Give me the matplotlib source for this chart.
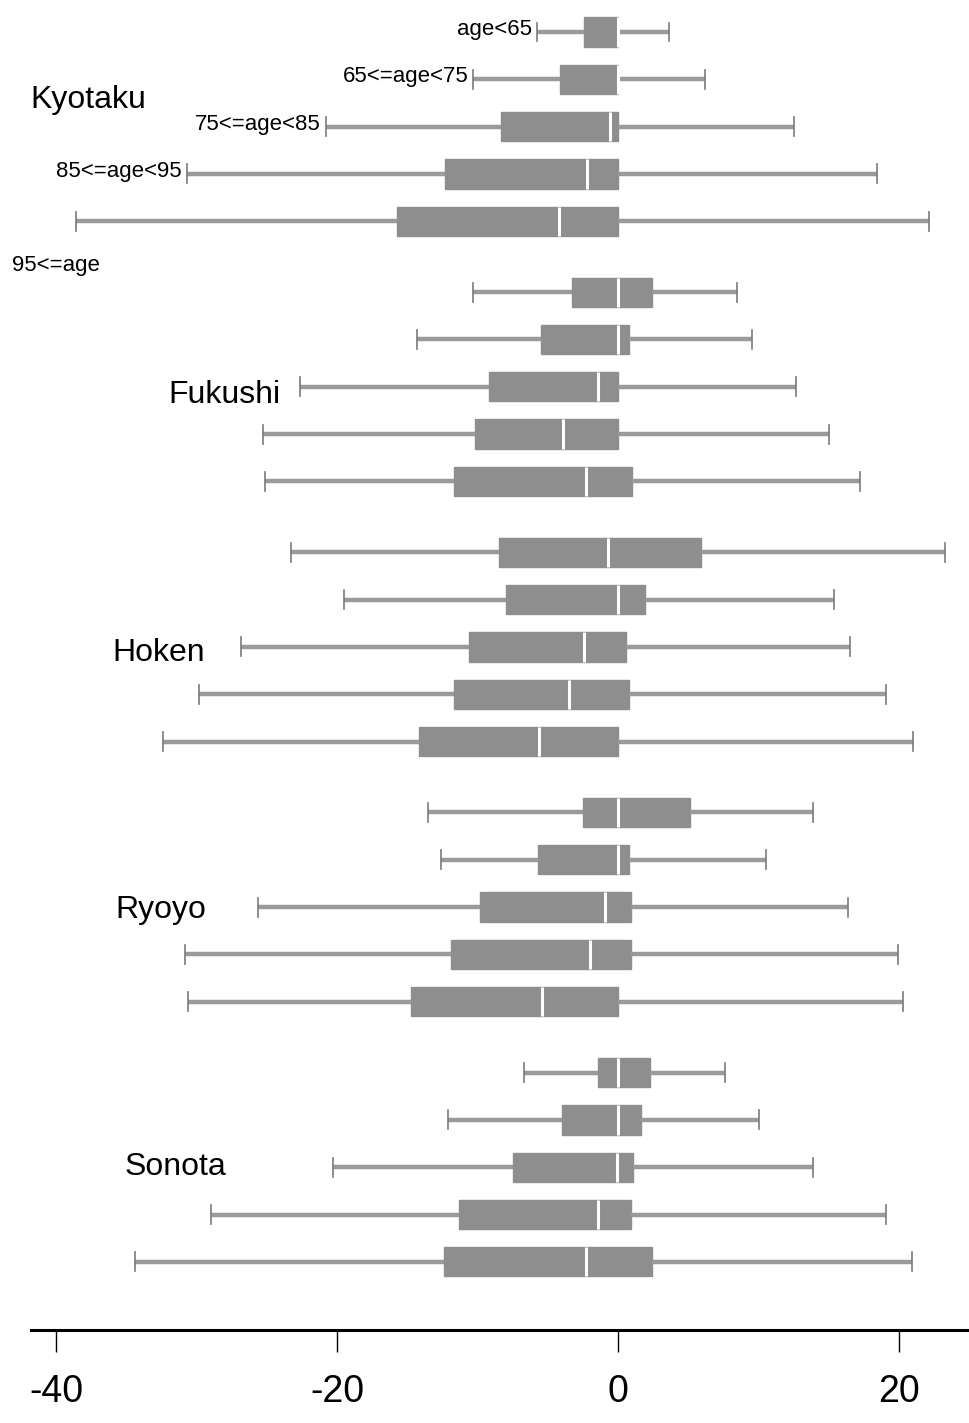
import matplotlib
matplotlib.use("Agg")
import matplotlib.pyplot as plt

# Группы и возрастные категории
groups = ["Kyotaku", "Fukushi", "Hoken", "Ryoyo", "Sonota"]
ages = ["age<65", "65<=age<75", "75<=age<85", "85<=age<95", "95<=age"]

# Статистика ящиков (по группам, внутри — по возрасту)
whislo = [-5.8, -10.3, -20.8, -30.7, -38.6,
          -10.3, -14.3, -22.6, -25.3, -25.1,
          -23.3, -19.5, -26.8, -29.8, -32.4,
          -13.5, -12.6, -25.6, -30.8, -30.6,
          -6.7, -12.1, -20.3, -29.0, -34.4]
q1 = [-2.4, -4.1, -8.3, -12.3, -15.7,
      -3.3, -5.5, -9.2, -10.2, -11.7,
      -8.5, -8.0, -10.6, -11.7, -14.2,
      -2.5, -5.7, -9.8, -11.9, -14.7,
      -1.4, -4.0, -7.5, -11.3, -12.4]
med = [0.0, 0.0, -0.6, -2.2, -4.2,
       0.0, 0.0, -1.4, -3.9, -2.3,
       -0.7, 0.0, -2.4, -3.5, -5.6,
       0.0, 0.0, -0.9, -2.0, -5.4,
       0.0, 0.0, -0.1, -1.4, -2.3]
q3 = [0.0, 0.0, 0.0, 0.0, 0.0,
      2.4, 0.8, 0.0, 0.0, 1.0,
      5.9, 1.9, 0.6, 0.8, 0.0,
      5.1, 0.8, 0.9, 0.9, 0.0,
      2.3, 1.6, 1.1, 0.9, 2.4]
whishi = [3.6, 6.2, 12.5, 18.4, 22.1,
          8.5, 9.5, 12.7, 15.0, 17.2,
          23.3, 15.4, 16.5, 19.1, 21.0,
          13.9, 10.5, 16.4, 19.9, 20.3,
          7.6, 10.0, 13.9, 19.1, 20.9]

xticks = [-40, -20, 0, 20]
xticklabels = ["-40", "-20", "0", "20"]

font = ["Liberation Sans", "DejaVu Sans"]
gray = "#8e8e8e"

fig = plt.figure(figsize=(9.69, 14.23), dpi=100)
ax = fig.add_axes([0.032, 0.0654, 0.968, 0.9346])

# позиции строк: 5 строк в группе + полстроки промежутка
positions = []
stats = []
for j in range(len(groups)):
    for i in range(len(ages)):
        k = j * len(ages) + i
        positions.append(j * 5.5 + i)
        stats.append(dict(whislo=whislo[k], q1=q1[k], med=med[k], q3=q3[k],
                          whishi=whishi[k], fliers=[]))

ax.bxp(stats, positions=positions, orientation="horizontal", widths=0.62,
       capwidths=0.4, patch_artist=True, showfliers=False,
       boxprops=dict(facecolor=gray, edgecolor=gray, linewidth=1),
       whiskerprops=dict(color="#9a9a9a", linewidth=3.2, solid_capstyle="butt"),
       capprops=dict(color="#7a7a7a", linewidth=1.2),
       medianprops=dict(color="white", linewidth=2.2))

ax.set_xlim(-41.78, 24.98)
ax.set_ylim(27.44, -0.677)

# подписи групп
label_x = [-41.85, -32.0, -36.0, -35.8, -35.1]
label_dy = [1.44, 2.17, 2.13, 2.06, 2.0]
for j, g in enumerate(groups):
    ax.text(label_x[j], j * 5.5 + label_dy[j], g, ha="left", va="center",
            fontsize=23, family=font, clip_on=False)

# подписи возрастов у первой группы
for i, a in enumerate(ages[:4]):
    ax.text(whislo[i] - 0.35, i - 0.05, a, ha="right", va="center",
            fontsize=16, family=font)
ax.text(-43.1, 4.93, ages[4], ha="left", va="center", fontsize=16,
        family=font, clip_on=False)

for s in ["top", "left", "right"]:
    ax.spines[s].set_visible(False)
ax.spines["bottom"].set_linewidth(2.2)
ax.set_yticks([])
ax.set_xticks(xticks)
ax.set_xticklabels(xticklabels, family=font, fontsize=27)
ax.tick_params(axis="x", length=16, width=1, pad=16)

fig.savefig("out.png", dpi=100)
